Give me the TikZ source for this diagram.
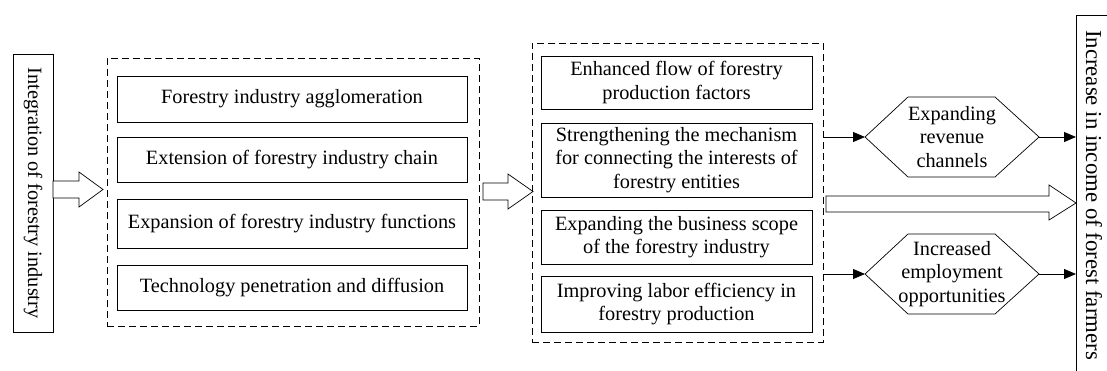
\documentclass[tikz,border=0pt]{standalone}
\usepackage{fontspec}
\setmainfont{Liberation Serif}
\usetikzlibrary{arrows.meta}
\begin{document}
\begin{tikzpicture}[x=1pt,y=-1pt,
  txt/.style={font=\rmfamily\fontsize{20.3}{23.5}\selectfont, align=center, inner sep=0pt},
  box/.style={txt, draw, line width=0.8pt},
  grp/.style={draw, dash pattern=on 7pt off 4pt, line width=0.8pt},
  blk/.style={draw, line width=0.7pt, fill=white},
  arr/.style={-{Triangle[length=12pt,width=10pt]}, line width=0.8pt},
  hex/.style={draw, line width=0.7pt}]
\clip (0,0) rectangle (1107,370);
\fill[white] (0,0) rectangle (1107,370);

% left box
\node[box, rotate=-90, minimum width=278pt, minimum height=40pt] (L) at (33,193) {Integration of forestry industry};
\coordinate (Le) at (53,190);

% group 1
\node[grp, minimum width=372pt, minimum height=268pt] (g1) at (293,192) {};
\node[box, minimum width=350pt, minimum height=46pt] (a1) at (292,99) {Forestry industry agglomeration};
\node[box, minimum width=350pt, minimum height=45pt] (a2) at (292,159.5) {Extension of forestry industry chain};
\node[box, minimum width=350pt, minimum height=49pt] (a3) at (292,223.5) {Expansion of forestry industry functions};
\node[box, minimum width=350pt, minimum height=45pt] (a4) at (292,287.5) {Technology penetration and diffusion};

% block arrow 1
\draw[blk] (Le |- 0,181) -- (79,181) -- (79,172) -- (103,189.5) -- (79,207) -- (79,198) -- (Le |- 0,198) -- cycle;

% group 2
\node[grp, minimum width=291pt, minimum height=299pt] (g2) at (677.5,192.5) {};
\node[box, minimum width=271pt, minimum height=53pt] (b1) at (676.5,82.5) {Enhanced flow of forestry\\production factors};
\node[box, minimum width=271pt, minimum height=74pt] (b2) at (676.5,160) {Strengthening the mechanism\\for connecting the interests of\\forestry entities};
\node[box, minimum width=271pt, minimum height=54pt] (b3) at (676.5,237) {Expanding the business scope\\of the forestry industry};
\node[box, minimum width=271pt, minimum height=56pt] (b4) at (676.5,304) {Improving labor efficiency in\\forestry production};

% block arrow 2
\draw[blk] (483,183) -- (508,183) -- (508,174) -- (533,191.5) -- (508,209) -- (508,200) -- (483,200) -- cycle;

% right box
\draw[line width=0.8pt] (1120,15) -- (1076,15) -- (1076,380);
\node[txt, font=\rmfamily\fontsize{22.8}{26}\selectfont, rotate=-90] (R) at (1094,195) {Increase in income of forest farmers};
\coordinate (Rw) at (1076,193);

% hexagons
\node[txt] (h1) at (952,137) {Expanding\\revenue\\channels};
\coordinate (h1w) at (865,137);
\coordinate (h1e) at (1039,137);
\draw[hex] (h1w) -- (908,97) -- (995,97) -- (h1e) -- (995,177) -- (908,177) -- cycle;

\node[txt] (h2) at (952,274) {Increased\\employment\\opportunities};
\coordinate (h2w) at (865,274);
\coordinate (h2e) at (1039,274);
\draw[hex] (h2w) -- (908,234) -- (995,234) -- (h2e) -- (995,314) -- (908,314) -- cycle;

% arrows
\draw[arr] (g2.east |- h1w) -- (h1w);
\draw[arr] (g2.east |- h2w) -- (h2w);
\draw[arr] (h1e) -- (Rw |- h1e);
\draw[arr] (h2e) -- (Rw |- h2e);

% block arrow 3
\draw[blk] (826,196) -- (1049,196) -- (1049,185) -- (Rw |- 0,203) -- (1049,220) -- (1049,212) -- (826,212) -- cycle;
\end{tikzpicture}
\end{document}
